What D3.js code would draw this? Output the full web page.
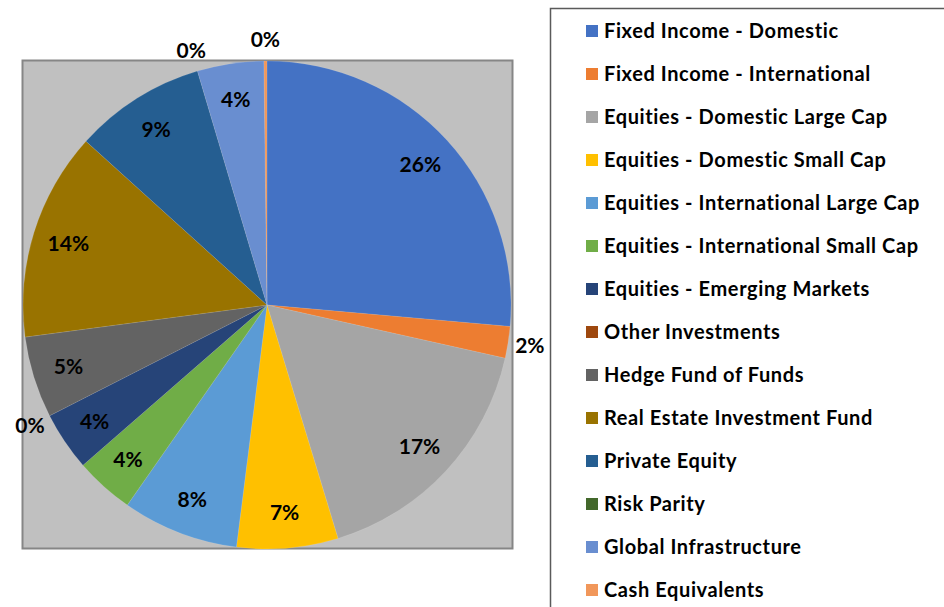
<!DOCTYPE html>
<html>
<head>
<meta charset="utf-8">
<script src="https://cdn.jsdelivr.net/npm/d3@7"></script>
<style>
  body { margin: 0; background: #fff; }
  svg { display: block; }
</style>
</head>
<body>
<div id="output"></div>
<script>
// asset classes, in pie order (clockwise from 12 o'clock)
const categories = [
  "Fixed Income - Domestic",
  "Fixed Income - International",
  "Equities - Domestic Large Cap",
  "Equities - Domestic Small Cap",
  "Equities - International Large Cap",
  "Equities - International Small Cap",
  "Equities - Emerging Markets",
  "Other Investments",
  "Hedge Fund of Funds",
  "Real Estate Investment Fund",
  "Private Equity",
  "Risk Parity",
  "Global Infrastructure",
  "Cash Equivalents"
];
// allocation, percent
const values = [26.4, 2.1, 16.8, 6.7, 7.7, 3.9, 3.9, 0.0, 5.4, 13.8, 8.7, 0.0, 4.4, 0.2];
const colors = [
  "#4472C4", "#ED7D31", "#A5A5A5", "#FFC000", "#5B9BD5", "#70AD47", "#264478",
  "#9E480E", "#636363", "#997300", "#255E91", "#43682B", "#698ED0", "#F1975A"
];

const width = 944, height = 607;
const cx = 267, cy = 305, R = 244;
const font = "Lato, 'Open Sans', sans-serif";

const svg = d3.select("#output").append("svg")
  .attr("width", width)
  .attr("height", height)
  .attr("font-family", font)
  .attr("font-weight", "bold");

// plot area
svg.append("rect")
  .attr("x", 22.5).attr("y", 60.5)
  .attr("width", 490).attr("height", 488)
  .attr("fill", "#C0C0C0")
  .attr("stroke", "#868686")
  .attr("stroke-width", 2);

const data = categories.map((c, i) => ({ name: c, value: values[i], color: colors[i] }));
const total = d3.sum(values);

const pie = d3.pie().sort(null).value(d => d.value);
const arcs = pie(data);
const arc = d3.arc().innerRadius(0).outerRadius(R);
const inLabel = d3.arc().innerRadius(208).outerRadius(208);
const outLabel = d3.arc().innerRadius(266).outerRadius(266);

const g = svg.append("g").attr("transform", `translate(${cx},${cy})`);

g.selectAll("path")
  .data(arcs)
  .join("path")
  .attr("d", arc)
  .attr("fill", d => d.data.color)
  .attr("stroke", d => d.data.value > 0 ? "#ffffff" : "none")
  .attr("stroke-opacity", 0.2)
  .attr("stroke-width", 0.5);

const pct = d3.format(".0%");

g.selectAll("text")
  .data(arcs)
  .join("text")
  .attr("transform", d => {
    const p = (d.data.value / total < 0.03 ? outLabel : inLabel).centroid(d);
    return `translate(${p[0]},${p[1]})`;
  })
  .attr("text-anchor", "middle")
  .attr("dy", "0.36em")
  .attr("font-size", 21)
  .attr("fill", "#000")
  .text(d => pct(d.data.value / total));

// legend
svg.append("rect")
  .attr("x", 550.5).attr("y", 8.5)
  .attr("width", 400).attr("height", 610)
  .attr("fill", "#fff")
  .attr("stroke", "#5a5a5a")
  .attr("stroke-width", 1.5);

const legend = svg.append("g")
  .selectAll("g")
  .data(data)
  .join("g")
  .attr("transform", (d, i) => `translate(586,${31 + i * 43})`);

legend.append("rect")
  .attr("x", 0).attr("y", -6)
  .attr("width", 12).attr("height", 12)
  .attr("fill", d => d.color);

legend.append("text")
  .attr("x", 18)
  .attr("dy", "0.36em")
  .attr("font-size", 20)
  .attr("letter-spacing", 0.6)
  .attr("fill", "#000")
  .text(d => d.name);
</script>
</body>
</html>
